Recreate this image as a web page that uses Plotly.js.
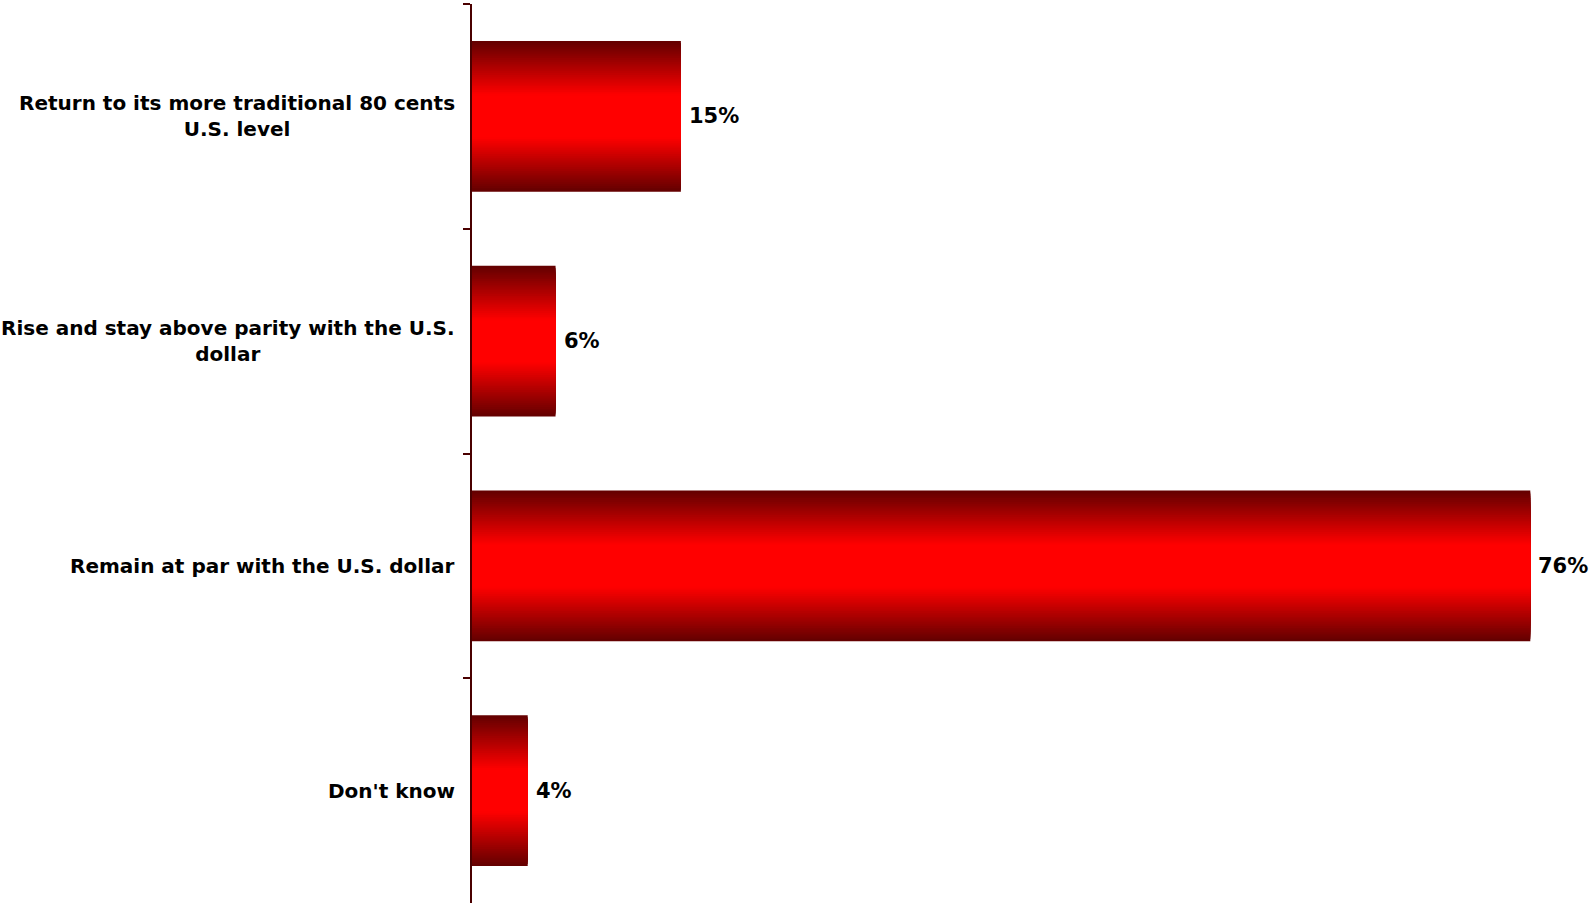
<!DOCTYPE html>
<html>
<head>
<meta charset="utf-8">
<script src="https://cdn.plot.ly/plotly-3.0.1.min.js"></script>
<style>
  html, body { margin: 0; padding: 0; background: #ffffff; }
  #chart { width: 1595px; height: 905px; }
</style>
</head>
<body>
<div id="chart"></div>
<script>
// ---- data ----
var categories = [
  "Return to its more traditional 80 cents<br>U.S. level",
  "Rise and stay above parity with the U.S.<br>dollar",
  "Remain at par with the U.S. dollar",
  "Don't know"
];
var values = [15, 6, 76, 4];
var valueLabels = ["15%", "6%", "76%", "4%"];

// ---- style ----
var FONT = "'DejaVu Sans', 'Noto Sans', sans-serif";
var AXIS_COLOR = "#4a0000";
var BAR_WIDTH = 0.67;
var LAYERS = 40;
var EDGE = [98, 0, 0];
var CENTER = [255, 0, 0];

// vertical gradient simulated by overlaid, progressively narrower bars
var traces = [];
for (var k = 0; k < LAYERS; k++) {
  var d = (k + 0.5) / (2 * LAYERS);          // distance from bar edge (0..0.5)
  var t = Math.min(1, d / 0.36);
  var c = EDGE.map(function (e, i) { return Math.round(e + (CENTER[i] - e) * t); });
  traces.push({
    type: "bar",
    orientation: "h",
    x: values,
    y: categories,
    width: BAR_WIDTH * (LAYERS - k) / LAYERS,
    marker: { color: "rgb(" + c.join(",") + ")", line: { width: 0 } },
    hoverinfo: k === 0 ? "x+y" : "skip",
    showlegend: false
  });
}

var annotations = [];
categories.forEach(function (cat, i) {
  annotations.push({
    xref: "paper", yref: "y", x: 0, y: cat,
    xanchor: "right", yanchor: "middle", xshift: -15,
    text: "<b>" + cat + "</b>", align: "center", showarrow: false,
    font: { family: FONT, size: 20, color: "#000000" }
  });
  annotations.push({
    xref: "x", yref: "y", x: values[i], y: cat,
    xanchor: "left", yanchor: "middle", xshift: 6,
    text: "<b>" + valueLabels[i] + "</b>", showarrow: false,
    font: { family: FONT, size: 21, color: "#000000" }
  });
});

var layout = {
  width: 1595, height: 905,
  margin: { l: 472, r: 9, t: 4, b: 2, pad: 0 },
  paper_bgcolor: "#ffffff", plot_bgcolor: "#ffffff",
  barmode: "overlay",
  showlegend: false,
  xaxis: { range: [0, 80], visible: false, showgrid: false, zeroline: false },
  yaxis: {
    type: "category",
    categoryorder: "array", categoryarray: categories,
    range: [3.5, -0.5],
    showticklabels: false,
    showline: true, linecolor: AXIS_COLOR, linewidth: 2,
    ticks: "outside", tickson: "boundaries", ticklen: 7, tickwidth: 2, tickcolor: AXIS_COLOR,
    showgrid: false, zeroline: false
  },
  annotations: annotations,
  font: { family: FONT }
};

Plotly.newPlot("chart", traces, layout, { displayModeBar: false, staticPlot: true });
</script>
</body>
</html>
